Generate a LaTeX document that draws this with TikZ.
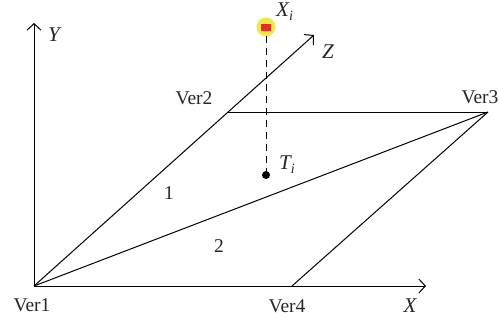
\documentclass[tikz,border=0pt]{standalone}
\usepackage{fontspec}
\setmainfont{Liberation Serif}
\usetikzlibrary{arrows.meta}
\definecolor{halo}{RGB}{240,232,70}
\definecolor{redbox}{RGB}{238,40,40}
\newcommand{\subi}{\raisebox{-4pt}{\fontsize{14}{14}\selectfont\itshape i}}
\tikzset{
  x=1pt,y=-1pt,
  lbl/.style={inner sep=0pt,font=\fontsize{19.5}{22}\selectfont,text=black!85},
  ital/.style={lbl,font=\fontsize{21}{22}\selectfont\itshape},
  axis/.style={line width=1pt,-{Straight Barb[length=6.5pt,width=14pt,line width=1pt]}},
  edge/.style={line width=1pt},
  drop/.style={line width=1pt,dash pattern=on 7pt off 5pt}
}
\begin{document}
\begin{tikzpicture}
\useasboundingbox (0,0) rectangle (499,322);
\coordinate (v1) at (34,286);
\coordinate (v2) at (228,112);
\coordinate (v3) at (488,112);
\coordinate (v4) at (292,286);
\coordinate (ytip) at (34,23);
\coordinate (ztip) at (314,35);
\coordinate (xtip) at (426,286);
\coordinate (xi) at (266,27);
\coordinate (ti) at (266,175);
\coordinate (dropstart) at (266,36);
\draw[axis] (v1) -- (ytip);
\draw[axis] (v1) -- (ztip);
\draw[axis] (v1) -- (xtip);
\draw[edge] (v2) -- (v3);
\draw[edge] (v1) -- (v3);
\draw[edge] (v4) -- (v3);
\fill[halo] (xi) circle (9.5);
\fill[redbox] (261,24) rectangle (271,31);
\draw[drop] (dropstart) -- (ti);
\fill[black] (ti) circle (4);
\node[lbl] (lv1) at (32,305) {Ver1};
\node[lbl] (lv2) at (194,98) {Ver2};
\node[lbl] (lv3) at (480,97) {Ver3};
\node[lbl] (lv4) at (287,306) {Ver4};
\node[lbl] (ln1) at (169,193) {1};
\node[lbl] (ln2) at (219,246) {2};
\node[ital] (lx) at (410,306) {X};
\node[ital] (ly) at (54,35) {Y};
\node[ital] (lz) at (328,52) {Z};
\node[ital,anchor=base west] (lxi) at (276,16) {X\subi};
\node[ital,anchor=base west] (lti) at (279,169) {T\subi};
\end{tikzpicture}
\end{document}
